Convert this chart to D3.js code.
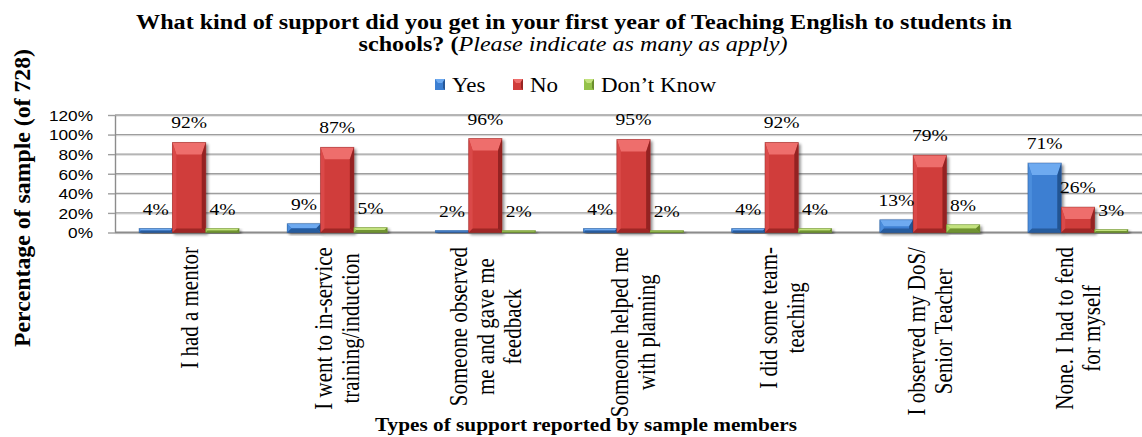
<!DOCTYPE html>
<html><head><meta charset="utf-8">
<script src="https://cdn.jsdelivr.net/npm/d3@7"></script>
<style>
html,body{margin:0;padding:0;background:#fff;overflow:hidden}
svg{display:block}
</style></head>
<body>
<svg id="c" width="1142" height="437"></svg>
<script>
// ---- data ----
const categories = [
  ["I had a mentor"],
  ["I went to in-service","training/induction"],
  ["Someone observed","me and gave me","feedback"],
  ["Someone helped me","with planning"],
  ["I did some team-","teaching"],
  ["I observed my DoS/","Senior Teacher"],
  ["None. I had to fend","for myself"]
];
const seriesNames = ["Yes","No","Don\u2019t Know"];
const yesValues = [4, 9, 2, 4, 4, 13, 71];
const noValues = [92, 87, 96, 95, 92, 79, 26];
const dontKnowValues = [4, 5, 2, 2, 4, 8, 3];
const yTicks = [0, 20, 40, 60, 80, 100, 120];
const titleLine1 = "What kind of support did you get in your first year of Teaching English to students in";
const titleLine2a = "schools? (";
const titleLine2b = "Please indicate as many as apply)";
const yTitle = "Percentage of sample (of 728)";
const xTitle = "Types of support reported by sample members";

// ---- layout ----
const SX = 1.15;          // horizontal stretch of the reference image
const SERIF = "'Liberation Serif','Times New Roman',serif";
const svg = d3.select("#c");
const pLeft = 115, pRight = 1152, pTop = 115, pBottom = 232.5, gridRight = 1142;
const catIds = categories.map((c,i)=>i);
const x0 = d3.scaleBand().domain(catIds).range([pLeft,pRight]).paddingInner(0.325).paddingOuter(0.1625);
const x1 = d3.scaleBand().domain(seriesNames).range([0, x0.bandwidth()]);
const y = d3.scaleLinear().domain([0,120]).range([pBottom, pTop]);
const seriesData = [yesValues, noValues, dontKnowValues];
const pal = {
  "Yes":        {face:"#3c7fd2", light:"#6eaaf0", mid:"#4b8ddc", dark:"#1f4c88"},
  "No":         {face:"#d03c3a", light:"#ee6e6c", mid:"#da4a48", dark:"#8a1f1d"},
  "Don\u2019t Know": {face:"#94c24a", light:"#c3e27f", mid:"#a5cf5b", dark:"#5f7f26"}
};

const defs = svg.append("defs");
const f = defs.append("filter").attr("id","sh").attr("x","-20%").attr("y","-20%").attr("width","150%").attr("height","150%");
f.append("feGaussianBlur").attr("in","SourceAlpha").attr("stdDeviation",1.6);
f.append("feOffset").attr("dx",1.5).attr("dy",1.5).attr("result","o");
f.append("feComponentTransfer").append("feFuncA").attr("type","linear").attr("slope",0.45);
const m = f.append("feMerge"); m.append("feMergeNode"); m.append("feMergeNode").attr("in","SourceGraphic");

// gridlines
const grid = svg.append("g");
yTicks.forEach(t=>{
  grid.append("line").attr("x1",pLeft).attr("x2",gridRight).attr("y1",y(t)+1.2).attr("y2",y(t)+1.2)
    .attr("stroke","#dedede").attr("stroke-width",1);
  grid.append("line").attr("x1",pLeft).attr("x2",gridRight).attr("y1",y(t)).attr("y2",y(t))
    .attr("stroke", t===0 ? "#8c8c8c" : "#9e9e9e").attr("stroke-width", t===0 ? 2 : 1.4);
});
// axis
const yAxis = d3.axisLeft(y).tickValues(yTicks).tickSizeInner(7).tickSizeOuter(0).tickPadding(15).tickFormat(d=>d+"%");
const ag = svg.append("g").attr("transform",`translate(${pLeft},0)`).call(yAxis);
ag.select(".domain").attr("stroke","#8c8c8c").attr("stroke-width",1.4);
ag.selectAll(".tick line").attr("stroke","#9e9e9e").attr("stroke-width",1.4);
ag.selectAll(".tick text").each(function(){
  d3.select(this).attr("font-family","'Liberation Sans', Arial, sans-serif").attr("font-size",15).attr("fill","#000")
   .attr("dy","0.35em").attr("x",0).attr("transform",`translate(-22,0) scale(${SX},1)`).attr("text-anchor","end");
});

// bars
function bevelBar(g, x, yTop, w, h, c){
  const bt = Math.min(12, h/2), bs = Math.min(4, h/2, w/4);
  const yb = yTop + h;
  const gg = g.append("g").attr("filter","url(#sh)");
  gg.append("rect").attr("x",x).attr("y",yTop).attr("width",w).attr("height",h).attr("fill",c.face);
  if (h < 1.5) return;
  gg.append("path").attr("d",`M${x},${yTop}L${x+w},${yTop}L${x+w-bs},${yTop+bt}L${x+bs},${yTop+bt}Z`).attr("fill",c.light);
  gg.append("path").attr("d",`M${x},${yTop}L${x+bs},${yTop+bt}L${x+bs},${yb-bs}L${x},${yb}Z`).attr("fill",c.mid);
  gg.append("path").attr("d",`M${x+w},${yTop}L${x+w},${yb}L${x+w-bs},${yb-bs}L${x+w-bs},${yTop+bt}Z`).attr("fill",c.dark).attr("opacity",0.85);
  gg.append("path").attr("d",`M${x},${yb}L${x+bs},${yb-bs}L${x+w-bs},${yb-bs}L${x+w},${yb}Z`).attr("fill",c.dark).attr("opacity",0.7);
  gg.append("rect").attr("x",x).attr("y",yTop).attr("width",w).attr("height",h).attr("fill","none")
    .attr("stroke",c.dark).attr("stroke-opacity",0.5).attr("stroke-width",0.8);
}
const barsG = svg.append("g");
const labelsG = svg.append("g");
catIds.forEach(i=>{
  seriesNames.forEach((s,k)=>{
    const v = seriesData[k][i];
    const bx = x0(i) + x1(s), bw = x1.bandwidth();
    const yt = y(v), h = pBottom - yt;
    bevelBar(barsG, bx, yt, bw, Math.max(h,1.8), pal[s]);
    labelsG.append("text").attr("transform",`translate(${bx+bw/2},${yt-14}) scale(${SX},1)`)
      .attr("text-anchor","middle").attr("font-family",SERIF)
      .attr("font-size",17).attr("fill","#000").text(v+"%");
  });
});

// category labels (rotated, lines centred, block top at fixed y)
const catTop = 247, lh = 23.5, catFont = 21;
catIds.forEach(i=>{
  const lines = categories[i];
  const cx = x0(i) + x0.bandwidth()/2;
  const g = svg.append("g");
  const texts = lines.map(ln=> g.append("text").attr("font-family",SERIF)
      .attr("font-size",catFont).attr("fill","#000").attr("text-anchor","middle").text(ln));
  const maxLen = d3.max(texts, t=>t.node().getComputedTextLength());
  const n = lines.length;
  texts.forEach((t,j)=>{
    const off = (j - (n-1)/2) * lh;
    t.attr("x", -(catTop + maxLen/2)).attr("y", off).attr("dy","0.35em");
  });
  g.attr("transform",`translate(${cx},0) scale(${SX},1) rotate(-90)`);
});

// titles
const title = svg.append("g").attr("font-family",SERIF).attr("fill","#000");
title.append("text").attr("transform",`translate(574,29) scale(${SX},1)`).attr("text-anchor","middle")
  .attr("font-size",21).attr("font-weight","bold").text(titleLine1);
const t2 = title.append("text").attr("transform",`translate(573,51) scale(${SX},1)`).attr("text-anchor","middle").attr("font-size",21);
t2.append("tspan").attr("font-weight","bold").text(titleLine2a);
t2.append("tspan").attr("font-style","italic").text(titleLine2b);

// legend
const legX = [435, 513, 584];
const lg = svg.append("g");
seriesNames.forEach((s,k)=>{
  const c = pal[s];
  const lx = legX[k], ly = 79;
  lg.append("rect").attr("x",lx).attr("y",ly).attr("width",10).attr("height",11).attr("fill",c.face);
  lg.append("path").attr("d",`M${lx},${ly}L${lx+10},${ly}L${lx+7},${ly+4}L${lx+3},${ly+4}Z`).attr("fill",c.light);
  lg.append("path").attr("d",`M${lx+10},${ly}L${lx+10},${ly+11}L${lx+8},${ly+9}L${lx+8},${ly+3}Z`).attr("fill",c.dark).attr("opacity",0.8);
  lg.append("text").attr("transform",`translate(${lx+17},92) scale(${SX},1)`)
    .attr("font-family",SERIF).attr("font-size",20).attr("fill","#000").text(s);
});

// axis titles
svg.append("text").attr("transform",`translate(586,431) scale(${SX},1)`).attr("text-anchor","middle")
  .attr("font-family",SERIF).attr("font-weight","bold").attr("font-size",18.5)
  .attr("fill","#000").text(xTitle);
svg.append("text").attr("transform",`translate(30,198) rotate(-90)`).attr("text-anchor","middle")
  .attr("font-family",SERIF).attr("font-weight","bold").attr("font-size",23)
  .attr("textLength",298).attr("lengthAdjust","spacingAndGlyphs")
  .attr("fill","#000").text(yTitle);
</script>
</body></html>
